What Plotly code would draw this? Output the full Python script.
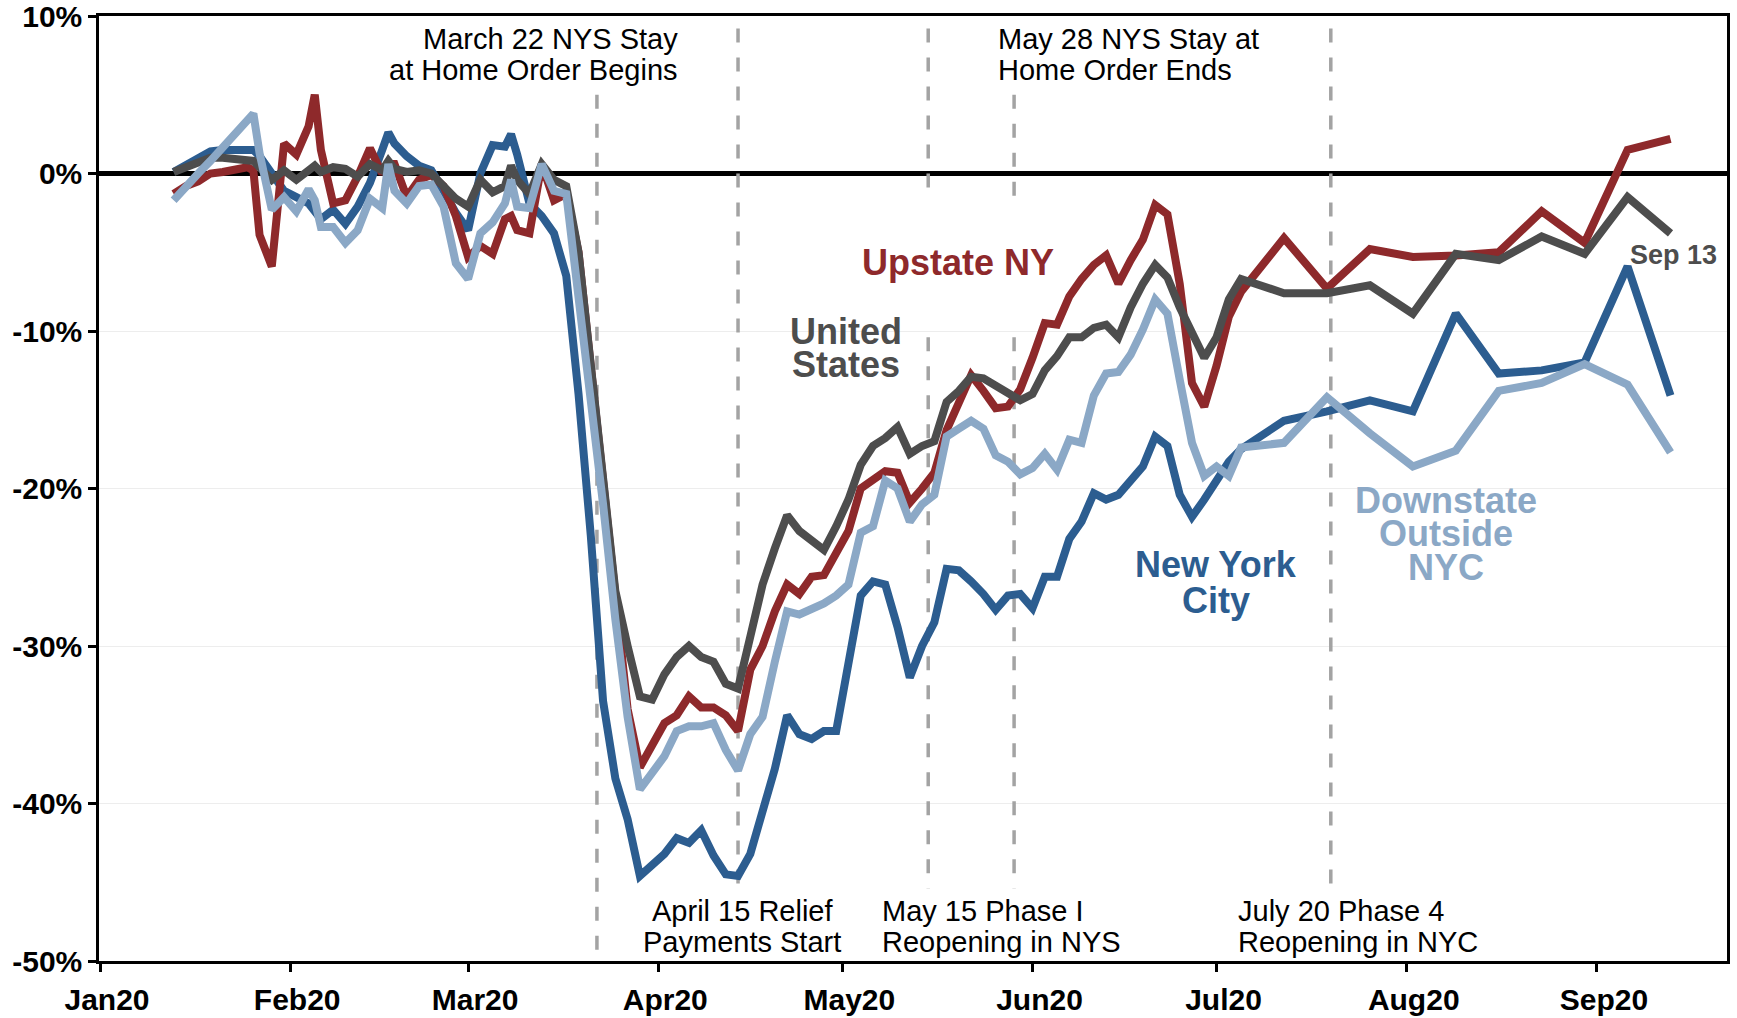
import plotly.graph_objs as go

#####################################################################
# DATA
#####################################################################
dates = ["2020-" + d for d in (
    "01-13", "01-15", "01-17", "01-19", "01-21", "01-23", "01-25", "01-26",
    "01-27", "01-29", "01-31",
    "02-02", "02-04", "02-05", "02-06", "02-08", "02-10", "02-12", "02-14",
    "02-16", "02-17", "02-18", "02-20", "02-22", "02-24", "02-26", "02-28",
    "03-01", "03-03", "03-05", "03-07", "03-08", "03-09", "03-11", "03-13",
    "03-15", "03-17", "03-19", "03-21", "03-23", "03-25", "03-27", "03-29",
    "03-31",
    "04-02", "04-04", "04-06", "04-08", "04-10", "04-12", "04-14", "04-16",
    "04-18", "04-20", "04-22", "04-24", "04-26", "04-28", "04-30",
    "05-02", "05-04", "05-06", "05-08", "05-10", "05-12", "05-14", "05-16",
    "05-18", "05-20", "05-22", "05-24", "05-26", "05-28", "05-30",
    "06-01", "06-03", "06-05", "06-07", "06-09", "06-11", "06-13", "06-15",
    "06-17", "06-19", "06-21", "06-23", "06-25", "06-27", "06-29",
    "07-01", "07-03", "07-05",
    "07-12", "07-19", "07-26", "08-02", "08-09", "08-16", "08-23", "08-30",
    "09-06", "09-13")]

upstate_ny = [
    -1.3, -0.8, -0.5, 0.0, 0.1, 0.2, 0.4, 0.2, -3.9, -5.9, 1.9,
    1.2, 3.0, 5.0, 1.5, -1.9, -1.7, -0.2, 1.6, 0.0, 0.6, 0.6, -1.5, -0.4,
    -0.1, -0.8, -2.7,
    -5.3, -4.6, -5.1, -2.9, -2.7, -3.6, -3.8, 0.6, -1.7, -1.3, -5.0, -12.0,
    -20.0, -27.0, -34.0, -37.7, -36.3,
    -34.9, -34.4, -33.2, -33.9, -33.9, -34.4, -35.4, -31.5, -30.0, -27.8,
    -26.1, -26.7, -25.6, -25.5, -24.1,
    -22.7, -20.0, -19.5, -18.9, -19.0, -20.9, -20.0, -19.0, -16.3, -14.4,
    -12.8, -13.8, -14.9, -14.8, -13.7,
    -11.7, -9.5, -9.6, -7.8, -6.7, -5.8, -5.2, -7.0, -5.5, -4.2, -2.0, -2.6,
    -7.0, -13.3, -14.8,
    -12.2, -9.1, -7.5,
    -4.1, -7.3, -4.8, -5.3, -5.2, -5.0, -2.4, -4.4, 1.5, 2.2]

united_states = [
    0.1, 0.4, 0.7, 1.0, 1.0, 0.9, 0.9, 0.8, 0.4, -0.4, 0.2,
    -0.4, 0.2, 0.5, 0.1, 0.4, 0.3, -0.2, 0.6, 0.2, 0.8, 0.3, 0.1, 0.2, 0.0,
    -0.8, -1.6,
    -2.1, -0.4, -1.2, -0.8, 0.5, -0.4, -1.3, 0.6, -0.4, -0.8, -5.0, -12.0,
    -20.0, -26.5, -30.0, -33.2, -33.4,
    -31.8, -30.7, -30.0, -30.7, -31.0, -32.4, -32.7, -29.4, -26.1, -23.8,
    -21.7, -22.7, -23.3, -23.9, -22.4,
    -20.7, -18.5, -17.3, -16.8, -16.1, -17.8, -17.3, -17.0, -14.5, -13.8,
    -12.9, -13.0, -13.5, -14.0, -14.4,
    -14.0, -12.5, -11.6, -10.4, -10.4, -9.8, -9.6, -10.4, -8.5, -7.0, -5.8,
    -6.6, -8.5, -10.2, -11.7,
    -10.4, -8.0, -6.7,
    -7.6, -7.6, -7.1, -8.9, -5.1, -5.5, -4.0, -5.1, -1.5, -3.8]

new_york_city = [
    0.1, 0.5, 0.9, 1.4, 1.5, 1.5, 1.5, 1.5, 1.1, 0.1, -1.1,
    -1.5, -1.9, -2.4, -2.9, -2.3, -3.2, -2.1, -0.6, 1.5, 2.6, 1.9, 1.1, 0.5,
    0.2, -1.1, -2.5,
    -3.6, 0.0, 1.8, 1.7, 2.5, 1.2, -1.9, -2.7, -3.8, -6.5, -14.0, -23.0,
    -33.5, -38.4, -41.0, -44.6, -43.9,
    -43.2, -42.2, -42.5, -41.7, -43.3, -44.5, -44.6, -43.2, -40.5, -37.8,
    -34.4, -35.6, -35.9, -35.4, -35.4,
    -31.0, -26.8, -25.9, -26.1, -28.8, -32.0, -30.0, -28.5, -25.1, -25.2,
    -25.9, -26.7, -27.7, -26.8, -26.7,
    -27.6, -25.6, -25.6, -23.2, -22.1, -20.3, -20.7, -20.4, -19.4, -18.6,
    -16.7, -17.3, -20.4, -21.8, -20.7,
    -19.6, -18.3, -17.5,
    -15.7, -15.1, -14.4, -15.1, -8.9, -12.7, -12.5, -12.0, -5.9, -14.1]

downstate_outside_nyc = [
    -1.7, -0.8, 0.0, 0.8, 1.7, 2.5, 3.4, 3.8, 1.3, -2.3, -1.5,
    -2.4, -1.0, -1.7, -3.4, -3.4, -4.4, -3.6, -1.6, -2.2, 0.6, -1.1, -1.9,
    -0.8, -0.7, -2.1, -5.7,
    -6.7, -3.8, -3.1, -1.9, -0.4, -2.1, -2.2, 0.6, -1.1, -1.3, -7.6, -14.0,
    -21.0, -28.3, -34.5, -39.1, -38.0,
    -37.0, -35.4, -35.1, -35.1, -34.9, -36.6, -37.9, -35.6, -34.5, -31.0,
    -27.8, -28.0, -27.7, -27.3, -26.8,
    -26.1, -22.8, -22.4, -19.5, -20.0, -22.1, -21.0, -20.4, -16.7, -16.2,
    -15.7, -16.2, -17.9, -18.3, -19.1,
    -18.7, -17.8, -18.8, -16.9, -17.1, -14.1, -12.7, -12.6, -11.5, -9.9,
    -8.0, -8.9, -13.1, -17.1, -19.2,
    -18.6, -19.2, -17.4,
    -17.1, -14.2, -16.5, -18.6, -17.6, -13.8, -13.3, -12.1, -13.4, -17.7]

y_ticks = [10, 0, -10, -20, -30, -40, -50]
y_tick_labels = ["10%", "0%", "-10%", "-20%", "-30%", "-40%", "-50%"]

event_dates = ["2020-03-22", "2020-04-14", "2020-05-15", "2020-05-29",
               "2020-07-19 15:00"]

#####################################################################
# STYLE
#####################################################################
FONT = "Liberation Sans, Arial, sans-serif"
RED = "#8e292b"
GRAY = "#4d4d4d"
BLUE = "#2c5d90"
LIGHT_BLUE = "#8ba8c6"

# plot area in page pixels
LEFT, TOP, WIDTH, HEIGHT = 99, 16, 1628, 945


def _at(px, py):
    return (px - LEFT) / WIDTH, (TOP + HEIGHT - py) / HEIGHT


def _text(label, px, py, color="#000000", size=29, bold=False,
          xanchor="center"):
    x, y = _at(px, py)
    return dict(
        text=label, x=x, y=y, xref="paper", yref="paper",
        xanchor=xanchor, yanchor="middle", showarrow=False,
        font=dict(family=FONT, size=size, color=color,
                  weight="bold" if bold else "normal"))


def _line(name, values, color):
    return go.Scatter(
        x=dates, y=values, name=name, mode="lines",
        line=dict(color=color, width=8), showlegend=False)


#####################################################################
# FIGURE
#####################################################################
fig = go.Figure([
    _line("New York City", new_york_city, BLUE),
    _line("Upstate NY", upstate_ny, RED),
    _line("United States", united_states, GRAY),
    _line("Downstate Outside NYC", downstate_outside_nyc, LIGHT_BLUE)])

# dashed event markers: (event, top %, bottom %) segments
segments = [
    (0, 5.0, -49.3),
    (1, 9.2, -45.4),
    (2, 9.2, -1.6), (2, -10.4, -45.4),
    (3, 5.0, -1.6), (3, -10.4, -45.4),
    (4, 9.2, -45.4)]
for i, y0, y1 in segments:
    fig.add_shape(
        type="line", xref="x", yref="y",
        x0=event_dates[i], x1=event_dates[i], y0=y0, y1=y1,
        line=dict(color="#a3a3a3", width=3.5, dash="14px,15px"),
        layer="between")

annotations = [
    _text("March 22 NYS Stay", 680, 39.5, xanchor="right"),
    _text("at Home Order Begins", 680, 70.5, xanchor="right"),
    _text("May 28 NYS Stay at", 996, 39.5, xanchor="left"),
    _text("Home Order Ends", 996, 70.5, xanchor="left"),
    _text("April 15 Relief", 742, 910.5),
    _text("Payments Start", 742, 941.5),
    _text("May 15 Phase I", 880, 910.5, xanchor="left"),
    _text("Reopening in NYS", 880, 941.5, xanchor="left"),
    _text("July 20 Phase 4", 1236, 910.5, xanchor="left"),
    _text("Reopening in NYC", 1236, 941.5, xanchor="left"),
    _text("Upstate NY", 958, 262, RED, 36, True),
    _text("United", 846, 332, GRAY, 36, True),
    _text("States", 846, 365, GRAY, 36, True),
    _text("New York", 1216, 565, BLUE, 36, True),
    _text("City", 1216, 600, BLUE, 36, True),
    _text("Downstate", 1446, 500, LIGHT_BLUE, 36, True),
    _text("Outside", 1446, 533, LIGHT_BLUE, 36, True),
    _text("NYC", 1446, 567, LIGHT_BLUE, 36, True),
    _text("Sep 13", 1673, 255, GRAY, 27, True)]

fig.update_layout(
    width=1737, height=1018,
    margin=dict(l=LEFT, r=1737 - LEFT - WIDTH, t=TOP, b=1018 - TOP - HEIGHT),
    plot_bgcolor="white", paper_bgcolor="white",
    font=dict(family=FONT, color="#000000"),
    annotations=annotations,
    xaxis=dict(
        type="date", range=["2019-12-31 20:00", "2020-09-22 05:00"],
        tick0="2020-01-01", dtick="M1", tickformat="%b%y",
        ticks="outside", ticklen=8, tickwidth=2.5, tickcolor="black",
        ticklabelshift=7, ticklabelstandoff=2, automargin=False,
        showline=True, linecolor="black", linewidth=2.5, mirror=True,
        showgrid=False, zeroline=False,
        tickfont=dict(family=FONT, size=30, color="black", weight="bold")),
    yaxis=dict(
        range=[-50, 10], tickvals=y_ticks, ticktext=y_tick_labels,
        ticks="outside", ticklen=8, tickwidth=2.5, tickcolor="black",
        ticklabeloverflow="allow", automargin=False,
        showline=True, linecolor="black", linewidth=2.5, mirror=True,
        showgrid=True, gridcolor="#ededed", gridwidth=1,
        zeroline=True, zerolinecolor="black", zerolinewidth=4.5,
        tickfont=dict(family=FONT, size=30, color="black", weight="bold")))

fig.write_html("out.html", config={"displayModeBar": False},
               post_script="document.body.style.margin='0';")
